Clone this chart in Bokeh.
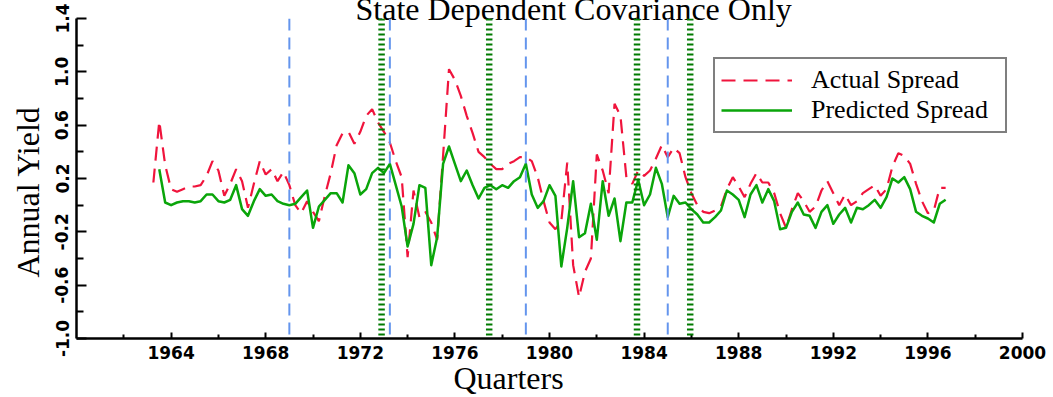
import numpy as np
from bokeh.plotting import figure
from bokeh.models import (FixedTicker, CustomJSTickFormatter, Span, Title,
                          Legend, LegendItem, Range1d)
from bokeh.embed import file_html
from bokeh.resources import INLINE

# ---------------- data ----------------
actual_start = 1963.25      # first quarter of the actual spread
predicted_start = 1963.5    # first quarter of the predicted spread

actual_spread = [
    0.17, 0.63, 0.30, 0.12, 0.10, 0.12, 0.14, 0.14, 0.15, 0.22,
    0.33, 0.26, 0.07, 0.16, 0.27, 0.18, -0.02, 0.16, 0.33, 0.23,
    0.27, 0.18, 0.25, 0.15, 0.00, -0.06, 0.03, -0.05, -0.12, 0.07,
    0.24, 0.45, 0.54, 0.55, 0.46, 0.55, 0.67, 0.72, 0.62, 0.55,
    0.47, 0.33, 0.21, -0.39, 0.11, -0.09, -0.05, -0.13, -0.26, 0.37,
    1.02, 0.94, 0.82, 0.67, 0.54, 0.40, 0.36, 0.31, 0.27, 0.27,
    0.31, 0.33, 0.36, 0.36, 0.33, 0.21, 0.03, -0.13, -0.18, -0.12,
    0.32, -0.45, -0.69, -0.50, -0.40, 0.38, 0.26, 0.09, 0.76, 0.67,
    0.21, 0.16, 0.26, 0.22, 0.26, 0.35, 0.45, 0.36, 0.43, 0.39,
    0.21, 0.09, 0.00, -0.05, -0.06, -0.04, -0.01, 0.12, 0.21, 0.14,
    0.06, 0.16, 0.24, 0.17, 0.17, 0.09, -0.06, -0.17, -0.03, 0.09,
    0.03, -0.05, -0.01, 0.11, 0.18, 0.09, 0.00, 0.08, 0.00, 0.03,
    0.09, 0.12, 0.15, 0.07, 0.12, 0.29, 0.39, 0.37, 0.31, 0.16,
    0.03, -0.06, -0.04, 0.13, 0.13,
]

predicted_spread = [
    0.27, 0.02, 0.00, 0.02, 0.03, 0.03, 0.02, 0.03, 0.08, 0.08,
    0.03, 0.02, 0.04, 0.15, -0.03, -0.08, 0.03, 0.12, 0.07, 0.08,
    0.03, 0.01, 0.00, 0.01, 0.06, 0.11, -0.17, -0.01, 0.04, 0.09,
    0.09, 0.02, 0.30, 0.24, 0.08, 0.12, 0.24, 0.28, 0.24, 0.31,
    0.15, -0.01, -0.31, -0.14, 0.15, 0.13, -0.45, -0.24, 0.31, 0.44,
    0.31, 0.18, 0.26, 0.15, 0.05, 0.13, 0.15, 0.12, 0.15, 0.13,
    0.18, 0.21, 0.31, 0.08, -0.02, 0.03, 0.15, 0.07, -0.46, -0.17,
    0.18, -0.24, -0.21, 0.01, -0.26, 0.18, -0.08, 0.05, -0.27, 0.02,
    0.02, 0.19, 0.00, 0.08, 0.28, 0.16, -0.09, 0.07, 0.01, 0.02,
    -0.03, -0.07, -0.13, -0.13, -0.09, -0.04, 0.11, 0.08, 0.04, -0.09,
    0.08, 0.15, 0.02, 0.12, 0.03, -0.18, -0.17, -0.05, 0.02, -0.07,
    -0.08, -0.17, -0.05, 0.00, -0.14, -0.07, -0.02, -0.13, -0.02, -0.03,
    0.00, 0.04, -0.02, 0.06, 0.20, 0.17, 0.21, 0.12, -0.05, -0.08,
    -0.10, -0.13, 0.01, 0.04,
]

blue_lines = [1969.0, 1973.25, 1979.0, 1985.0]
green_lines = [1972.9, 1977.45, 1983.7, 1985.95]

x_ticks = [1964, 1968, 1972, 1976, 1980, 1984, 1988, 1992, 1996, 2000]
x_minor = [1962, 1966, 1970, 1974, 1978, 1982, 1986, 1990, 1994, 1998]
y_ticks = [-1.0, -0.6, -0.2, 0.2, 0.6, 1.0, 1.4]
y_minor = [-0.8, -0.4, 0.0, 0.4, 0.8, 1.2]

title_text = "State Dependent Covariance Only"
x_label = "Quarters"
y_label = "Annual Yield"
series_names = ["Actual Spread", "Predicted Spread"]

actual_x = actual_start + 0.25 * np.arange(len(actual_spread))
predicted_x = predicted_start + 0.25 * np.arange(len(predicted_spread))

# ---------------- figure ----------------
p = figure(width=1053, height=397, x_range=Range1d(1960, 2000),
           y_range=Range1d(-1.0, 1.4), output_backend="svg",
           toolbar_location=None, min_border_left=76, min_border_right=31,
           min_border_top=17, min_border_bottom=59)
p.outline_line_color = None
p.xgrid.visible = False
p.ygrid.visible = False
p.background_fill_color = "white"
p.border_fill_color = "white"

red = "#f0143c"
green = "#0aa50a"

r_act = p.line(actual_x, actual_spread, line_color=red, line_width=2.2,
               line_dash="14 8")
r_pred = p.line(predicted_x, predicted_spread, line_color=green, line_width=2.5,
                line_join="round")

for loc in blue_lines:
    p.add_layout(Span(location=loc, dimension="height", line_color="#6495ed",
                      line_width=2, line_dash="12 7"))
for loc in green_lines:
    p.add_layout(Span(location=loc, dimension="height", line_color="#007a00",
                      line_width=6.5, line_dash="2 3"))

tick_font = "DejaVu Sans"
for ax in (p.xaxis[0], p.yaxis[0]):
    ax.axis_line_width = 2.5
    ax.axis_line_color = "black"
    ax.major_tick_line_width = 2
    ax.minor_tick_line_width = 2
    ax.major_tick_out = 0
    ax.minor_tick_out = 0
    ax.major_label_text_font = tick_font
    ax.major_label_text_font_style = "bold"
    ax.major_label_text_font_size = "17px"
    ax.major_label_text_color = "black"

p.xaxis.ticker = FixedTicker(ticks=x_ticks, minor_ticks=x_minor)
p.xaxis.major_tick_in = 6
p.xaxis.minor_tick_in = 4
p.xaxis.major_label_standoff = 7

p.yaxis.ticker = FixedTicker(ticks=y_ticks, minor_ticks=y_minor)
p.yaxis.formatter = CustomJSTickFormatter(code="return tick.toFixed(1);")
p.yaxis.major_tick_in = 10
p.yaxis.minor_tick_in = 7
p.yaxis.major_label_orientation = "vertical"
p.yaxis.major_label_standoff = 8

serif = "Liberation Serif"
def make_title(text, standoff, offset, valign="top"):
    return Title(text=text, text_font=serif, text_font_size="32px",
                 text_font_style="normal", text_color="black",
                 align="left", vertical_align=valign,
                 standoff=standoff, offset=offset)

p.add_layout(make_title(title_text, -20, 279), "above")
p.add_layout(make_title(x_label, -5, 377, "middle"), "below")
p.add_layout(make_title(y_label, 9, 61), "left")

legend = Legend(items=[LegendItem(label=series_names[0], renderers=[r_act]),
                       LegendItem(label=series_names[1], renderers=[r_pred])],
                location=(637, 205))
legend.border_line_color = "black"
legend.border_line_width = 2
legend.background_fill_color = "white"
legend.background_fill_alpha = 1
legend.label_text_font = serif
legend.label_text_font_size = "26px"
legend.label_text_color = "black"
legend.glyph_width = 71
legend.glyph_height = 20
legend.label_standoff = 19
legend.label_width = 188
legend.padding = 6
legend.spacing = 0
legend.label_height = 25
legend.margin = 0
p.add_layout(legend)

open("out.html", "w").write(file_html(p, INLINE))
